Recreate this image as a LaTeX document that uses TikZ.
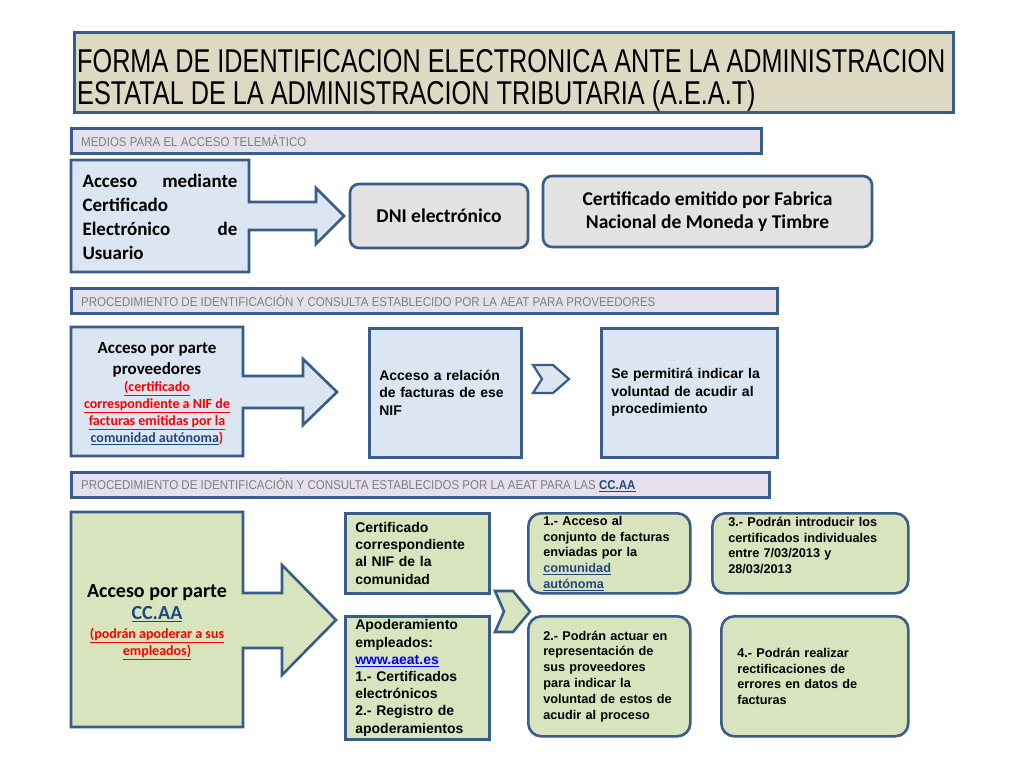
\documentclass[tikz,border=0pt]{standalone}
\usepackage{tikz}
\usepackage{fontspec}
\setmainfont{Liberation Sans}
\newfontfamily\narrowfont[FakeStretch=0.765]{Liberation Sans}
\newfontfamily\barfont[FakeStretch=0.9]{Liberation Sans}
\newfontfamily\califont{Carlito}
\definecolor{edgeblue}{HTML}{385D8A}
\definecolor{boxblue}{HTML}{DCE6F2}
\definecolor{boxolive}{HTML}{D7E4BD}
\definecolor{titletan}{HTML}{DDD9C3}
\definecolor{barlilac}{HTML}{E5E0EC}
\definecolor{boxgrey}{HTML}{E2E2E2}
\definecolor{linkblue}{HTML}{1F497D}
\definecolor{urlblue}{HTML}{0000FF}
\definecolor{bargrey}{HTML}{7F7F7F}
\begin{document}
\begin{tikzpicture}[x=1pt,y=-1pt,
  outline/.style={draw=edgeblue,line width=2.6pt},
  titlebox/.style={outline,fill=titletan,anchor=north west,inner sep=0pt},
  bar/.style={outline,fill=barlilac,anchor=north west,inner sep=0pt},
  bartext/.style={anchor=west,inner sep=0pt,text=bargrey,font=\barfont\fontsize{12.8}{15}\selectfont},
  calitext/.style={inner sep=0pt},
  greybox/.style={outline,fill=boxgrey,rounded corners=9pt,align=center,font=\califont\bfseries\fontsize{19.5}{23}\selectfont},
  bluebox/.style={outline,fill=boxblue,anchor=north west,inner xsep=10pt,inner ysep=0pt,align=left,font=\bfseries\fontsize{14}{17.5}\selectfont},
  olivebox/.style={outline,fill=boxolive,anchor=north west,inner xsep=10pt,inner ysep=0pt,align=left,font=\bfseries\fontsize{14}{17.2}\selectfont},
  stepround/.style={outline,fill=boxolive,rounded corners=13pt,anchor=north west,inner ysep=0pt,align=left,font=\bfseries\fontsize{12.7}{15.8}\selectfont},
  rednote/.style={inner sep=0pt,align=center,text=red,font=\califont\bfseries\fontsize{14}{17}\selectfont},
]
\fill[white] (0,0) rectangle (1024,768);

% title
\node[titlebox,minimum width=879pt,minimum height=80pt] (titlebar) at (73,31) {};
\node[anchor=north west,inner sep=0pt,align=left,font=\narrowfont\fontsize{33}{32}\selectfont] (titletext) at (77,49)
  {FORMA DE IDENTIFICACION ELECTRONICA ANTE LA ADMINISTRACION\\ESTATAL DE LA ADMINISTRACION TRIBUTARIA (A.E.A.T)};

% medios para el acceso
\node[bar,minimum width=690pt,minimum height=25pt] (medios) at (70,127) {};
\node[bartext] at ([xshift=11pt]medios.west) {MEDIOS PARA EL ACCESO TELEMÁTICO};

\draw[outline,fill=boxblue] (71,160) -- (249,160) -- (249,202) -- (316,202) -- (316,188) -- (344,216)
  -- (316,244) -- (316,230) -- (249,230) -- (249,272) -- (71,272) -- cycle;
\node[calitext,text width=155pt,align=left,font=\califont\bfseries\fontsize{19}{24}\selectfont] (medcert) at (160,217)
  {Acceso\hfill mediante\\Certificado\\Electrónico\hfill de\\Usuario};
\node[greybox,minimum width=178pt,minimum height=64pt] (dni) at (439,216) {DNI electrónico};
\node[greybox,minimum width=329pt,minimum height=71pt] (fnmt) at (707.5,211.5) {Certificado emitido por Fabrica\\Nacional de Moneda y Timbre};

% proveedores
\node[bar,minimum width=706pt,minimum height=25pt] (proced) at (70,287) {};
\node[bartext] at ([xshift=11pt]proced.west) {PROCEDIMIENTO DE IDENTIFICACIÓN Y CONSULTA ESTABLECIDO POR LA AEAT PARA PROVEEDORES};

\draw[outline,fill=boxblue] (71,327) -- (243,327) -- (243,376) -- (303,376) -- (303,359) -- (337,392)
  -- (303,425) -- (303,408) -- (243,408) -- (243,456) -- (71,456) -- cycle;
\node[calitext,align=center,font=\califont\bfseries\fontsize{17}{21}\selectfont] (provtitle) at (157,359.5) {Acceso por parte\\proveedores};
\node[rednote] (provnote) at (157,413) {\underline{(certificado}\\\underline{correspondiente a NIF de}\\\underline{facturas emitidas por la}\\\textcolor{linkblue}{\underline{comunidad autónoma}})};
\node[bluebox,text width=132pt,minimum height=129pt] (relacion) at (368,327) {Acceso a relación\\de facturas de ese\\NIF};
\draw[outline,fill=boxblue,line width=2.2pt] (533,365) -- (553,365) -- (569,379) -- (553,393) -- (533,393) -- (542,379) -- cycle;
\node[bluebox,text width=156pt,minimum height=129pt] (voluntad) at (600,327) {Se permitirá indicar la\\voluntad de acudir al\\procedimiento};

% comunidades autonomas
\node[bar,minimum width=698pt,minimum height=25pt] (procca) at (70,471) {};
\node[bartext] at ([xshift=11pt]procca.west) {PROCEDIMIENTO DE IDENTIFICACIÓN Y CONSULTA ESTABLECIDOS POR LA AEAT PARA LAS \textcolor{linkblue}{\bfseries\underline{CC.AA}}};

\draw[outline,fill=boxolive] (71,512) -- (243,512) -- (243,593) -- (282,593) -- (282,565) -- (336,620)
  -- (282,675) -- (282,648) -- (243,648) -- (243,727) -- (71,727) -- cycle;
\node[calitext,align=center,font=\califont\bfseries\fontsize{20}{22}\selectfont] (ccaatitle) at (157,603) {Acceso por parte\\\textcolor{linkblue}{\underline{CC.AA}}};
\node[rednote] (ccaanote) at (157,644) {\underline{(podrán apoderar a sus}\\\underline{empleados)}};
\node[olivebox,text width=124pt,minimum height=80pt] (certnif) at (344,512) {Certificado\\correspondiente\\al NIF de la\\comunidad};
\node[olivebox,text width=124pt,minimum height=123pt] (apoder) at (344,615) {Apoderamiento\\empleados:\\\textcolor{urlblue}{\underline{www.aeat.es}}\\1.- Certificados\\electrónicos\\2.- Registro de\\apoderamientos};
\draw[outline,fill=boxolive] (495,591) -- (513,591) -- (530,611.5) -- (513,632) -- (495,632) -- (504,611.5) -- cycle;
\node[stepround,inner xsep=15pt,text width=132pt,minimum height=80pt] (paso1) at (527,512)
  {1.- Acceso al\\conjunto de facturas\\enviadas por la\\\textcolor{linkblue}{\underline{comunidad}}\\\textcolor{linkblue}{\underline{autónoma}}};
\node[stepround,inner xsep=15pt,text width=132pt,minimum height=120pt] (paso2) at (527,615)
  {2.- Podrán actuar en\\representación de\\sus proveedores\\para indicar la\\voluntad de estos de\\acudir al proceso};
\node[stepround,inner xsep=16pt,text width=164pt,minimum height=80pt] (paso3) at (711,512)
  {3.- Podrán introducir los\\certificados individuales\\entre 7/03/2013 y\\28/03/2013\\\mbox{}};
\node[stepround,inner xsep=16pt,text width=155pt,minimum height=120pt] (paso4) at (720,615)
  {4.- Podrán realizar\\rectificaciones de\\errores en datos de\\facturas};
\end{tikzpicture}
\end{document}
